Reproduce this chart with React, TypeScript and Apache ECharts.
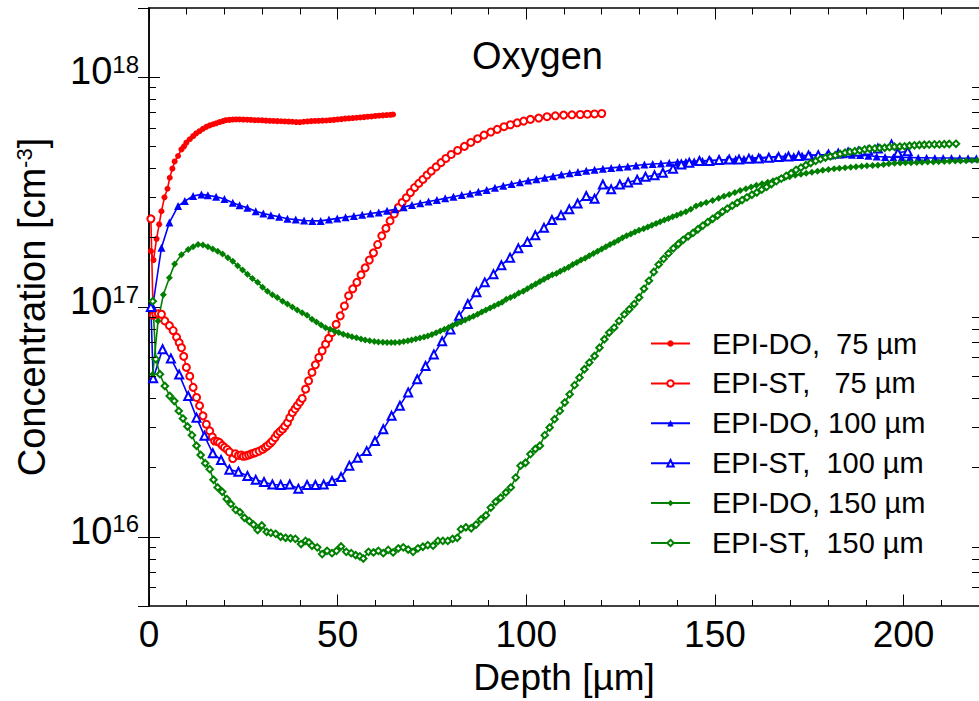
import React, { useEffect, useRef } from "react";
import * as echarts from "echarts";

const FONT = '"Liberation Sans", Arial, Helvetica, sans-serif';

const X_MIN = 0;
const X_MAX = 220;
const X_INTERVAL = 50;
const Y_MIN = 5e15;
const Y_MAX = 2e18;
const Y_MINOR_TICKS = [
  6e15, 7e15, 8e15, 9e15,
  2e16, 3e16, 4e16, 5e16, 6e16, 7e16, 8e16, 9e16,
  2e17, 3e17, 4e17, 5e17, 6e17, 7e17, 8e17, 9e17,
];

const TITLE = "Oxygen";
const X_NAME = "Depth [µm]";
const Y_NAME = "Concentration [cm{s|-3}]";

const NAMES = [
  "EPI-DO,  75 µm",
  "EPI-ST,   75 µm",
  "EPI-DO, 100 µm",
  "EPI-ST,  100 µm",
  "EPI-DO, 150 µm",
  "EPI-ST,  150 µm",
];

const EPI_DO_75: [number, number][] = [
  [0.5, 1.75e17], [1.2, 1.6e17], [2, 1.98e17], [2.7, 2.29e17], [3.3, 2.61e17], [4.1, 3.0e17],
  [4.9, 3.27e17], [5.5, 3.65e17], [6.2, 4.0e17], [6.8, 4.3e17], [7.7, 4.54e17], [8.6, 4.85e17],
  [9.3, 5.0e17], [9.9, 5.19e17], [10.8, 5.37e17], [11.7, 5.54e17], [12.5, 5.7e17], [13.4, 5.82e17],
  [14.3, 5.96e17], [15.2, 6.08e17], [16.1, 6.17e17], [17, 6.24e17], [17.8, 6.3e17], [18.7, 6.38e17],
  [19.6, 6.44e17], [20.4, 6.5e17], [21.3, 6.52e17], [22.2, 6.54e17], [23.1, 6.55e17], [24, 6.55e17],
  [25, 6.54e17], [26, 6.53e17], [27, 6.52e17], [28, 6.5e17], [29, 6.5e17], [30, 6.49e17],
  [31, 6.47e17], [32, 6.46e17], [33, 6.45e17], [34, 6.44e17], [35, 6.43e17], [36, 6.42e17],
  [37, 6.41e17], [38, 6.4e17], [39, 6.38e17], [40, 6.37e17], [41, 6.4e17], [42, 6.42e17],
  [43, 6.44e17], [44, 6.45e17], [45, 6.46e17], [46, 6.47e17], [47, 6.48e17], [48, 6.5e17],
  [49, 6.52e17], [50, 6.55e17], [51, 6.57e17], [52, 6.6e17], [53, 6.62e17], [54, 6.64e17],
  [55, 6.66e17], [56, 6.68e17], [57, 6.7e17], [58, 6.73e17], [59, 6.75e17], [60, 6.78e17],
  [61, 6.8e17], [62, 6.82e17], [63, 6.84e17], [64, 6.86e17], [64.7, 6.88e17],
];

const EPI_ST_75: [number, number][] = [
  [0.5, 2.42e17], [1.1, 9.2e16], [1.8, 9.3e16], [2.5, 9.35e16], [3.3, 9.3e16], [4.2, 8.7e16],
  [5.4, 8.3e16], [6.4, 7.9e16], [7.3, 7.4e16], [8, 7.0e16], [8.6, 6.65e16], [9.2, 6.1e16],
  [9.9, 5.46e16], [10.8, 5.0e16], [11.7, 4.47e16], [12.6, 4.04e16], [13.4, 3.72e16], [14.3, 3.36e16],
  [15.2, 3.09e16], [16.1, 2.89e16], [16.8, 2.72e16], [17.4, 2.61e16], [18.1, 2.6e16], [18.7, 2.57e16],
  [19.4, 2.5e16], [20, 2.45e16], [20.7, 2.4e16], [21.3, 2.34e16], [22.2, 2.19e16], [22.9, 2.3e16],
  [23.7, 2.26e16], [24.4, 2.27e16], [25, 2.24e16], [25.7, 2.25e16], [26.4, 2.27e16], [27, 2.29e16],
  [27.7, 2.31e16], [28.3, 2.33e16], [29.2, 2.36e16], [30.1, 2.4e16], [30.8, 2.45e16], [31.4, 2.49e16],
  [32.1, 2.55e16], [32.7, 2.61e16], [33.4, 2.7e16], [34, 2.8e16], [34.7, 2.87e16], [35.4, 2.94e16],
  [36, 3.03e16], [36.7, 3.14e16], [37.3, 3.3e16], [38, 3.47e16], [38.7, 3.6e16], [39.3, 3.72e16],
  [40, 3.86e16], [40.6, 4.0e16], [41.5, 4.39e16], [42.3, 4.77e16], [43.2, 5.19e16], [44.1, 5.6e16],
  [45, 6.03e16], [45.9, 6.45e16], [46.8, 6.89e16], [47.6, 7.3e16], [48.5, 7.74e16], [49.6, 8.4e16],
  [50.7, 9.15e16], [51.8, 1.01e17], [52.9, 1.12e17], [54, 1.2e17], [55.1, 1.28e17], [56.2, 1.38e17],
  [57.3, 1.48e17], [58.4, 1.6e17], [59.5, 1.72e17], [60.6, 1.87e17], [61.7, 2.04e17], [62.8, 2.2e17],
  [63.9, 2.37e17], [65, 2.54e17], [66.1, 2.71e17], [67.1, 2.85e17], [68.2, 2.99e17], [69.3, 3.15e17],
  [70.4, 3.31e17], [71.5, 3.45e17], [72.6, 3.59e17], [73.7, 3.75e17], [74.8, 3.9e17], [76.1, 4.07e17],
  [77.4, 4.25e17], [78.7, 4.43e17], [80.1, 4.61e17], [81.8, 4.8e17], [83.6, 5.0e17], [85.3, 5.2e17],
  [87.1, 5.4e17], [88.8, 5.6e17], [90.6, 5.77e17], [92.3, 5.93e17], [94.1, 6.09e17], [95.8, 6.21e17],
  [97.6, 6.33e17], [99.3, 6.44e17], [101.1, 6.55e17], [103.3, 6.64e17], [105.5, 6.73e17], [107.7, 6.79e17],
  [109.9, 6.84e17], [112.1, 6.86e17], [114.3, 6.88e17], [116.2, 6.9e17], [118.1, 6.92e17], [120, 6.95e17],
];

const EPI_DO_100: [number, number][] = [
  [1, 1.01e17], [3.3, 1.81e17], [5.4, 2.33e17], [7.7, 2.75e17], [9.5, 2.89e17], [11.7, 3.04e17],
  [13.9, 3.09e17], [15.6, 3.06e17], [17.8, 3.02e17], [20, 2.95e17], [22.2, 2.84e17], [24, 2.77e17],
  [26.1, 2.7e17], [28.3, 2.61e17], [30.3, 2.55e17], [32.3, 2.51e17], [34.5, 2.47e17], [36.7, 2.42e17],
  [38.9, 2.4e17], [41.1, 2.38e17], [43.3, 2.37e17], [45.5, 2.37e17], [47.7, 2.4e17], [49.9, 2.43e17],
  [52.1, 2.46e17], [54.3, 2.49e17], [56.5, 2.52e17], [58.7, 2.55e17], [60.9, 2.58e17], [63.1, 2.62e17],
  [65.3, 2.66e17], [67.5, 2.72e17], [69.7, 2.78e17], [71.9, 2.83e17], [74.1, 2.88e17], [76.3, 2.92e17],
  [78.5, 2.97e17], [80.7, 3.02e17], [82.9, 3.07e17], [85.1, 3.12e17], [87.3, 3.17e17], [89.5, 3.23e17],
  [91.7, 3.3e17], [93.9, 3.37e17], [96.1, 3.43e17], [98.3, 3.49e17], [100.5, 3.55e17], [102.7, 3.6e17],
  [104.9, 3.65e17], [107.1, 3.71e17], [109.3, 3.77e17], [111.5, 3.82e17], [113.7, 3.87e17], [115.9, 3.92e17],
  [118.1, 3.96e17], [120.3, 4.0e17], [122.5, 4.03e17], [124.7, 4.06e17], [126.9, 4.09e17], [129.1, 4.13e17],
  [131.3, 4.17e17], [133.5, 4.19e17], [135.7, 4.21e17], [137.9, 4.24e17], [140.1, 4.27e17], [142.3, 4.29e17],
  [144.5, 4.31e17], [146.7, 4.33e17], [148.9, 4.35e17], [151.1, 4.36e17], [153.3, 4.38e17], [155.5, 4.4e17],
  [157.7, 4.42e17], [159.9, 4.45e17], [162.1, 4.47e17], [164.3, 4.49e17], [166.5, 4.51e17], [168.7, 4.53e17],
  [170.9, 4.54e17], [173.1, 4.56e17], [175.3, 4.57e17], [177.5, 4.59e17], [179.7, 4.6e17], [181.9, 4.61e17],
  [184.1, 4.62e17], [186.3, 4.6e17], [188.5, 4.58e17], [190.7, 4.55e17], [192.9, 4.52e17], [195.1, 4.5e17],
  [197.3, 4.48e17], [199.5, 4.47e17], [201.7, 4.47e17], [203.9, 4.46e17], [206.1, 4.46e17], [208.3, 4.45e17],
  [210.5, 4.45e17], [212.7, 4.45e17], [214.9, 4.44e17], [217.1, 4.44e17], [219.3, 4.44e17],
];

const EPI_ST_100: [number, number][] = [
  [0.5, 1.0e17], [1.1, 4.9e16], [3.6, 6.55e16], [5.8, 5.97e16], [8, 5.08e16], [10.4, 4.1e16],
  [12.6, 3.3e16], [14.7, 2.75e16], [16.9, 2.31e16], [19.1, 2.16e16], [21.3, 1.96e16], [23.7, 1.92e16],
  [26.1, 1.84e16], [28.3, 1.77e16], [30.5, 1.73e16], [32.7, 1.69e16], [34.9, 1.68e16], [37.3, 1.69e16],
  [39.6, 1.62e16], [41.9, 1.68e16], [44.1, 1.68e16], [46.3, 1.69e16], [48.5, 1.75e16], [50.9, 1.82e16],
  [53.1, 2.04e16], [55.3, 2.21e16], [57.7, 2.36e16], [59.9, 2.61e16], [62.1, 2.94e16], [64.3, 3.36e16],
  [66.5, 3.72e16], [68.7, 4.25e16], [71.1, 4.85e16], [73.3, 5.54e16], [75.5, 6.22e16], [77.7, 7.1e16],
  [79.9, 7.99e16], [82.2, 9.15e16], [84.5, 1.03e17], [86.8, 1.16e17], [89, 1.28e17], [91.3, 1.39e17],
  [93.4, 1.52e17], [95.7, 1.64e17], [97.9, 1.8e17], [100.3, 1.92e17], [102.4, 2.05e17], [104.7, 2.21e17],
  [106.8, 2.39e17], [109.2, 2.51e17], [111.4, 2.66e17], [113.6, 2.82e17], [115.9, 3.04e17], [118.1, 2.96e17],
  [120.3, 3.41e17], [122.5, 3.25e17], [124.8, 3.41e17], [127, 3.48e17], [129.4, 3.58e17], [131.6, 3.69e17],
  [134, 3.74e17], [136.2, 3.84e17], [138.9, 4.0e17], [141.1, 4.17e17], [143.2, 4.24e17], [145.9, 4.32e17],
  [148.5, 4.32e17], [151.1, 4.36e17], [153.8, 4.38e17], [156.4, 4.38e17], [159, 4.42e17], [161.6, 4.43e17],
  [164.3, 4.46e17], [166.9, 4.49e17], [169.5, 4.52e17], [172.2, 4.54e17], [174.8, 4.56e17], [177.4, 4.58e17],
  [180.1, 4.61e17], [182.7, 4.65e17], [185.3, 4.7e17], [188, 4.74e17], [190.6, 4.8e17], [193.2, 4.89e17],
  [196.8, 5.1e17], [198.5, 4.69e17], [201.1, 4.76e17],
];

const EPI_DO_150: [number, number][] = [
  [1, 5.1e16], [2.4, 8.7e16], [3.8, 1.13e17], [5.4, 1.34e17], [6.8, 1.54e17], [8.6, 1.69e17],
  [10.4, 1.78e17], [11.7, 1.83e17], [13, 1.87e17], [14.3, 1.86e17], [15.6, 1.83e17], [16.9, 1.79e17],
  [18.2, 1.75e17], [19.5, 1.7e17], [20.9, 1.64e17], [22.2, 1.58e17], [23.5, 1.51e17], [24.8, 1.45e17],
  [26.1, 1.39e17], [27.4, 1.33e17], [28.8, 1.28e17], [30.1, 1.22e17], [31.4, 1.17e17], [32.7, 1.13e17],
  [34, 1.1e17], [35.4, 1.06e17], [36.7, 1.03e17], [38, 1.0e17], [39.3, 9.7e16], [40.6, 9.45e16],
  [41.9, 9.2e16], [43.2, 8.85e16], [44.4, 8.6e16], [45.6, 8.35e16], [46.8, 8.13e16], [48, 8.0e16],
  [49.2, 7.85e16], [50.3, 7.74e16], [51.5, 7.62e16], [52.7, 7.52e16], [53.8, 7.43e16], [55, 7.35e16],
  [56.2, 7.26e16], [57.3, 7.19e16], [58.5, 7.13e16], [59.7, 7.08e16], [60.8, 7.04e16], [62, 7.02e16],
  [63.1, 7.0e16], [64.2, 7.0e16], [65.2, 7.0e16], [66.4, 7.03e16], [67.5, 7.08e16], [68.6, 7.13e16],
  [69.6, 7.19e16], [70.7, 7.26e16], [71.8, 7.33e16], [72.9, 7.4e16], [73.9, 7.48e16], [75, 7.6e16],
  [76.1, 7.73e16], [77.2, 7.86e16], [78.3, 8.0e16], [79.4, 8.15e16], [80.5, 8.3e16], [81.6, 8.45e16],
  [82.7, 8.6e16], [83.8, 8.78e16], [84.9, 8.95e16], [86, 9.12e16], [87.1, 9.29e16], [88.2, 9.5e16],
  [89.3, 9.7e16], [90.4, 9.9e16], [91.5, 1.01e17], [92.6, 1.03e17], [93.6, 1.05e17], [94.7, 1.08e17],
  [95.8, 1.1e17], [96.9, 1.12e17], [98, 1.15e17], [99.2, 1.17e17], [100.3, 1.2e17], [101.4, 1.23e17],
  [102.5, 1.26e17], [103.6, 1.29e17], [104.7, 1.32e17], [105.8, 1.35e17], [106.9, 1.38e17], [108, 1.4e17],
  [109, 1.43e17], [110.1, 1.46e17], [111.2, 1.49e17], [112.3, 1.53e17], [113.4, 1.56e17], [114.5, 1.6e17],
  [115.6, 1.63e17], [116.7, 1.67e17], [117.8, 1.71e17], [118.9, 1.75e17], [120, 1.79e17], [121.1, 1.83e17],
  [122.2, 1.87e17], [123.3, 1.91e17], [124.4, 1.95e17], [125.5, 2.0e17], [126.6, 2.04e17], [127.7, 2.08e17],
  [128.8, 2.12e17], [129.9, 2.16e17], [131.1, 2.19e17], [132.2, 2.23e17], [133.3, 2.27e17], [134.4, 2.31e17],
  [135.5, 2.35e17], [136.6, 2.39e17], [137.7, 2.43e17], [138.8, 2.47e17], [139.9, 2.51e17], [141, 2.55e17],
  [142.3, 2.6e17], [143.6, 2.66e17], [145, 2.75e17], [146.3, 2.8e17], [147.7, 2.85e17], [149.4, 2.91e17],
  [151, 2.97e17], [152.4, 3.03e17], [153.8, 3.09e17], [155.3, 3.15e17], [156.7, 3.21e17], [158.2, 3.27e17],
  [159.6, 3.33e17], [161, 3.39e17], [162.5, 3.44e17], [164, 3.49e17], [165.4, 3.54e17], [166.9, 3.59e17],
  [168.4, 3.64e17], [169.8, 3.69e17], [171.3, 3.74e17], [172.8, 3.78e17], [174.2, 3.82e17], [175.7, 3.86e17],
  [177.2, 3.9e17], [178.6, 3.94e17], [180.1, 3.97e17], [181.6, 4.0e17], [183, 4.02e17], [184.5, 4.04e17],
  [186, 4.06e17], [187.4, 4.08e17], [188.9, 4.1e17], [190.3, 4.12e17], [191.8, 4.13e17], [193.2, 4.14e17],
  [194.7, 4.17e17], [196.1, 4.2e17], [197.6, 4.22e17], [199.1, 4.23e17], [200.5, 4.24e17], [202, 4.24e17],
  [203.5, 4.25e17], [204.9, 4.26e17], [206.4, 4.27e17], [207.9, 4.28e17], [209.3, 4.29e17], [210.8, 4.3e17],
  [212.2, 4.31e17], [213.7, 4.32e17], [215.1, 4.32e17], [216.6, 4.33e17], [218.1, 4.34e17], [219.5, 4.35e17],
];

const EPI_ST_150: [number, number][] = [
  [1, 1.06e17], [1.8, 5.93e16], [2.9, 5.1e16], [4.2, 4.53e16], [5.5, 4.1e16], [6.7, 3.9e16],
  [7.9, 3.53e16], [9, 3.27e16], [10.2, 3.02e16], [11.4, 2.77e16], [12.6, 2.49e16], [13.7, 2.27e16],
  [14.9, 2.09e16], [16.1, 1.97e16], [17.1, 1.77e16], [18.2, 1.64e16], [19.4, 1.57e16], [20.6, 1.46e16],
  [21.7, 1.39e16], [23, 1.31e16], [24.1, 1.28e16], [25.3, 1.21e16], [26.6, 1.17e16], [27.7, 1.13e16],
  [28.8, 1.07e16], [29.9, 1.12e16], [31.2, 1.05e16], [32.3, 1.04e16], [33.6, 1.03e16], [34.9, 1.0e16],
  [36.2, 9.9e15], [37.5, 9.85e15], [38.8, 9.8e15], [40.3, 9.3e15], [41.5, 9.6e15], [42.4, 9.45e15],
  [43.2, 9.14e15], [44.6, 9.0e15], [45.9, 8.41e15], [47.2, 8.69e15], [48.5, 8.49e15], [49.7, 8.69e15],
  [50.9, 9.08e15], [52.3, 8.6e15], [53.6, 8.49e15], [54.8, 8.32e15], [55.9, 8.22e15], [56.8, 8.05e15],
  [58.2, 8.6e15], [59.5, 8.55e15], [60.8, 8.69e15], [62.1, 8.49e15], [63.4, 8.77e15], [64.7, 8.55e15],
  [66.1, 8.91e15], [67.4, 9.0e15], [68.7, 8.8e15], [70, 8.6e15], [71.3, 8.91e15], [72.6, 9.05e15],
  [73.9, 9.2e15], [75.3, 9.15e15], [76.6, 9.6e15], [77.9, 9.6e15], [79.2, 9.6e15], [80.5, 9.8e15],
  [81.7, 9.9e15], [82.7, 1.08e16], [84, 1.1e16], [85.4, 1.09e16], [86.7, 1.13e16], [88, 1.19e16],
  [89.3, 1.24e16], [90.6, 1.34e16], [91.9, 1.42e16], [93.2, 1.48e16], [94.6, 1.56e16], [95.9, 1.64e16],
  [97.2, 1.81e16], [98.5, 2.04e16], [99.8, 2.1e16], [101.1, 2.29e16], [102.4, 2.41e16], [103.6, 2.49e16],
  [104.9, 2.77e16], [106.2, 2.99e16], [107.5, 3.25e16], [108.9, 3.53e16], [110.2, 3.84e16], [111.5, 4.17e16],
  [112.8, 4.57e16], [114.1, 4.93e16], [115.4, 5.36e16], [116.7, 5.73e16], [118.1, 6.12e16], [119.4, 6.65e16],
  [120.7, 7.24e16], [122, 7.74e16], [123.3, 8.13e16], [124.6, 8.7e16], [126, 9.29e16], [127.3, 9.77e16],
  [128.6, 1.03e17], [129.9, 1.1e17], [131.2, 1.2e17], [132.5, 1.3e17], [133.8, 1.42e17], [135.1, 1.53e17],
  [136.4, 1.62e17], [137.7, 1.71e17], [139, 1.8e17], [140.3, 1.88e17], [141.6, 1.96e17], [142.9, 2.03e17],
  [144.2, 2.1e17], [145.5, 2.18e17], [146.8, 2.26e17], [148.1, 2.34e17], [149.4, 2.42e17], [150.7, 2.5e17],
  [152, 2.6e17], [153.3, 2.68e17], [154.6, 2.76e17], [155.9, 2.84e17], [157.2, 2.92e17], [158.5, 3.0e17],
  [159.8, 3.08e17], [161.1, 3.15e17], [162.4, 3.24e17], [163.7, 3.33e17], [165, 3.43e17], [166.3, 3.53e17],
  [167.6, 3.62e17], [168.9, 3.72e17], [170.2, 3.82e17], [171.5, 3.95e17], [172.8, 4.04e17], [174.1, 4.14e17],
  [175.4, 4.23e17], [176.7, 4.32e17], [178, 4.4e17], [179.3, 4.47e17], [180.6, 4.52e17], [181.9, 4.57e17],
  [183.2, 4.63e17], [184.5, 4.69e17], [185.8, 4.73e17], [187.1, 4.76e17], [188.4, 4.8e17], [189.7, 4.85e17],
  [191, 4.88e17], [192.4, 4.9e17], [193.7, 4.92e17], [195, 4.93e17], [196.3, 4.96e17], [197.6, 4.98e17],
  [199, 4.99e17], [200.3, 5.0e17], [201.6, 5.03e17], [202.9, 5.05e17], [204.2, 5.07e17], [205.5, 5.08e17],
  [206.8, 5.09e17], [208.2, 5.1e17], [209.5, 5.1e17], [210.8, 5.11e17], [212.1, 5.12e17], [213.9, 5.13e17],
];

const RED = "#ff0000";
const BLUE = "#0000ff";
const GREEN = "#008000";

function makeSeries(name: string, data: [number, number][], color: string, symbol: string, size: number, empty: boolean) {
  return {
    name,
    type: "line",
    data,
    symbol,
    symbolSize: size,
    showSymbol: true,
    showAllSymbol: true,
    lineStyle: { color, width: 1.6 },
    itemStyle: empty ? { color, borderColor: color, borderWidth: 1.5 } : { color },
    emphasis: { disabled: true },
  };
}

export default function App() {
  const ref = useRef<HTMLDivElement>(null);
  useEffect(() => {
    if (!ref.current) return;
    const chart = echarts.init(ref.current, null, { renderer: "svg" });
    const axisLine = { show: true, lineStyle: { color: "#000", width: 1.5 } };
    const supFormatter = (v: number) => {
      const l = Math.log10(v);
      const e = Math.round(l);
      if (Math.abs(l - e) > 1e-6) return "";
      return `{b|10}{s|${e}}`;
    };
    const richY = {
      b: { fontSize: 38, fontFamily: FONT, color: "#000", lineHeight: 38, verticalAlign: "bottom", padding: [6, 0, 0, 0] },
      s: { fontSize: 24, fontFamily: FONT, color: "#000", lineHeight: 24, verticalAlign: "top" },
    };
    chart.setOption({
      animation: false,
      backgroundColor: "#fff",
      title: {
        text: TITLE,
        left: 467,
        top: 32,
        textStyle: { fontSize: 38, fontWeight: "normal", fontFamily: FONT, color: "#000" },
      },
      legend: {
        orient: "vertical",
        left: 650,
        top: 329,
        itemWidth: 39,
        itemHeight: 8,
        itemGap: 10.9,
        padding: 0,
        data: NAMES,
        textStyle: { fontSize: 29, fontFamily: FONT, color: "#000", lineHeight: 28, padding: [0, 0, 0, 17] },
      },
      grid: { left: 149, top: 8, right: -6, bottom: 94.3 },
      xAxis: [
        {
          type: "value",
          min: X_MIN,
          max: X_MAX,
          interval: X_INTERVAL,
          position: "bottom",
          name: X_NAME,
          nameLocation: "middle",
          nameGap: 53,
          nameTextStyle: { fontSize: 37, fontFamily: FONT, color: "#000" },
          axisLine,
          axisTick: { show: true, inside: true, length: 11.5, lineStyle: { color: "#000", width: 1 } },
          minorTick: { show: true, splitNumber: 5, length: 6, lineStyle: { color: "#000", width: 1 } },
          axisLabel: {
            margin: 10,
            fontSize: 37,
            fontFamily: FONT,
            color: "#000",
            showMaxLabel: false,
            formatter: (v: number) => (v % X_INTERVAL === 0 ? String(v) : ""),
          },
          splitLine: { show: false },
        },
        {
          type: "value",
          min: X_MIN,
          max: X_MAX,
          interval: X_INTERVAL,
          position: "top",
          axisLine,
          axisTick: { show: true, inside: true, length: 11.5, lineStyle: { color: "#000", width: 1 } },
          minorTick: { show: true, splitNumber: 5, length: 6.5, lineStyle: { color: "#000", width: 1 } },
          axisLabel: { show: false },
          splitLine: { show: false },
        },
      ],
      yAxis: [
        {
          type: "log",
          logBase: 10,
          min: Y_MIN,
          max: Y_MAX,
          position: "left",
          name: Y_NAME,
          nameLocation: "middle",
          nameGap: 98,
          nameTextStyle: {
            fontSize: 38,
            fontFamily: FONT,
            color: "#000",
            rich: { s: { fontSize: 22, fontFamily: FONT, color: "#000", lineHeight: 18, verticalAlign: "top" } },
          },
          axisLine,
          axisTick: { show: true, inside: true, length: 11, lineStyle: { color: "#000", width: 1 } },
          axisLabel: {
            margin: 10,
            formatter: supFormatter,
            rich: richY,
            padding: [0, 0, 12, 0],
            showMinLabel: false,
            showMaxLabel: false,
          },
          splitLine: { show: false },
        },
        {
          type: "log",
          logBase: 10,
          min: Y_MIN,
          max: Y_MAX,
          position: "right",
          axisLine,
          axisTick: { show: true, inside: true, length: 11, lineStyle: { color: "#000", width: 1 } },
          axisLabel: { show: false },
          splitLine: { show: false },
        },
      ],
      series: [
        makeSeries(NAMES[0], EPI_DO_75, RED, "circle", 6, false),
        makeSeries(NAMES[1], EPI_ST_75, RED, "emptyCircle", 7, true),
        makeSeries(NAMES[2], EPI_DO_100, BLUE, "triangle", 8, false),
        makeSeries(NAMES[3], EPI_ST_100, BLUE, "emptyTriangle", 8, true),
        makeSeries(NAMES[4], EPI_DO_150, GREEN, "diamond", 7, false),
        makeSeries(NAMES[5], EPI_ST_150, GREEN, "emptyDiamond", 6.5, true),
        {
          id: "y-minor-ticks",
          name: "y-minor-ticks",
          type: "custom",
          xAxisIndex: 0,
          yAxisIndex: 0,
          silent: true,
          clip: false,
          z: 10,
          data: Y_MINOR_TICKS.map((v) => [X_MIN, v]),
          renderItem: (_params: any, api: any) => {
            const v = api.value(1);
            const pl = api.coord([X_MIN, v]);
            const pr = api.coord([X_MAX, v]);
            const y = Math.round(pl[1] - 0.5);
            return {
              type: "group",
              children: [
                { type: "rect", shape: { x: Math.round(pl[0]), y, width: 7, height: 1 }, style: { fill: "#000" } },
                { type: "rect", shape: { x: Math.round(pr[0]) - 7, y, width: 7, height: 1 }, style: { fill: "#000" } },
              ],
            };
          },
        },
      ],
    });
    return () => chart.dispose();
  }, []);
  return <div ref={ref} style={{ position: "absolute", left: 0, top: 0, width: 979, height: 701 }} />;
}
